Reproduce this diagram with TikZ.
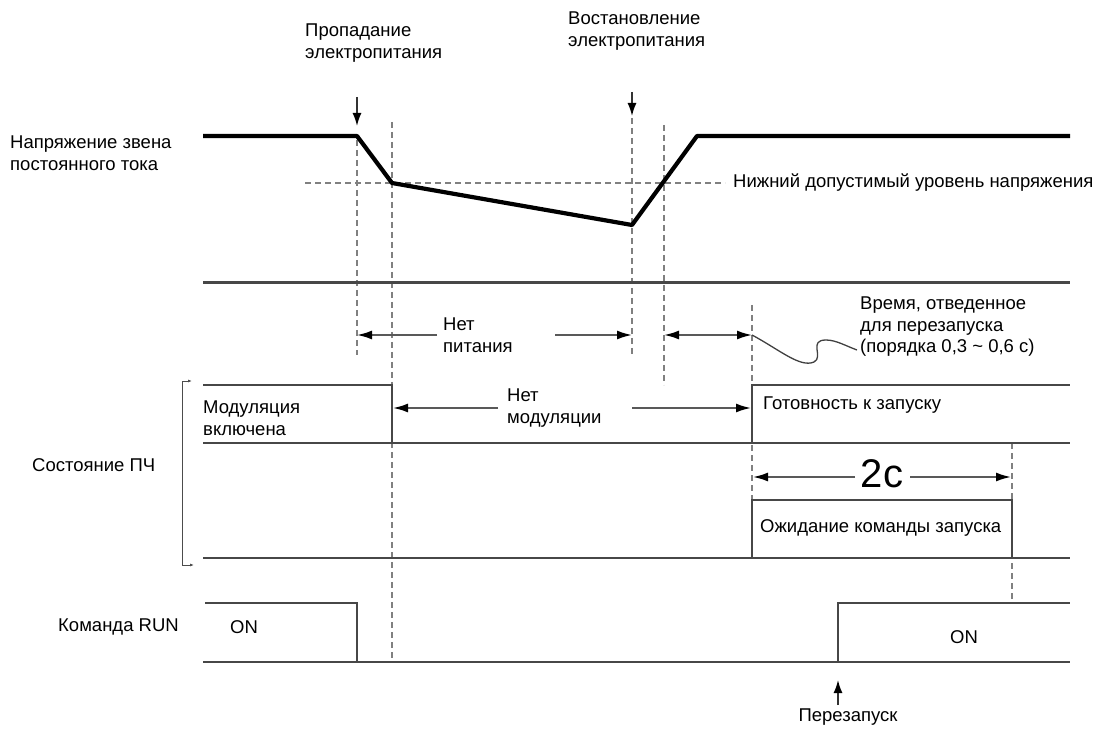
\documentclass[tikz,border=0pt]{standalone}
\usepackage{fontspec}
\setmainfont{Liberation Sans}
\usetikzlibrary{arrows.meta}
\begin{document}
\begin{tikzpicture}[x=1pt,y=-1pt,line cap=butt,
  sig/.style={line width=2.6pt,draw=black!72},
  dc/.style={line width=4.2pt,draw=black,line join=round},
  guide/.style={line width=1.6pt,draw=black!50,dash pattern=on 6pt off 4pt},
  dim/.style={line width=1.8pt,draw=black!65,-{Latex[length=15pt,width=9pt,fill=black,color=black]}},
  pointer/.style={line width=1.6pt,draw=black!80,-{Latex[length=13pt,width=9pt,color=black]}},
  lbl/.style={font=\fontsize{18.5}{21.5}\selectfont,align=left,inner sep=0pt,anchor=west}]
  \useasboundingbox (0,0) rectangle (1098,735);
  % guides
  \draw[guide] (357,140)--(357,355);
  \draw[guide] (392,122)--(392,662);
  \draw[guide] (632,118)--(632,355);
  \draw[guide] (664,125)--(664,385);
  \draw[guide] (752,305)--(752,500);
  \draw[guide] (1012,443)--(1012,600);
  \draw[guide] (305,183)--(725,183);
  % DC link voltage
  \draw[dc] (203,136)--(357,136)--(392,183)--(632,225)--(697,136)--(1070,136);
  \draw[pointer] (357,97)--(357,126);
  \draw[pointer] (632,92)--(632,116);
  \draw[sig,line width=3pt] (203,283)--(1070,283);
  \node[lbl] (loss) at (305,43) {Пропадание\\электропитания};
  \node[lbl] (back) at (568,31) {Востановление\\электропитания};
  \node[lbl] (dcv) at (10,153) {Напряжение звена\\постоянного тока};
  \node[lbl] (lim) at (733,183) {Нижний допустимый уровень напряжения};
  % no power
  \node[lbl] (nopow) at (443,335) {Нет\\питания};
  \draw[dim] (437,335)--(357,335);
  \draw[dim] (555,335)--(632,335);
  \draw[dim,{Latex[length=15pt,width=9pt,color=black]}-{Latex[length=15pt,width=9pt,color=black]}] (664,335)--(752,335);
  \draw[line width=1.3pt,black!75] (752,335) .. controls (780,350) and (800,368) .. (814,362)
    .. controls (824,357) and (808,340) .. (826,340) .. controls (836,340) and (846,346) .. (857,350);
  \node[lbl] (rtime) at (860,327) {Время, отведенное\\для перезапуска\\(порядка 0,3 \textasciitilde{} 0,6 с)};
  % FC state
  \draw[sig] (203,385)--(392,385)--(392,443);
  \draw[sig] (752,443)--(752,385)--(1070,385);
  \draw[sig] (203,443)--(1070,443);
  \draw[sig] (752,558)--(752,500)--(1012,500)--(1012,558);
  \draw[sig] (203,558)--(1070,558);
  \draw[line width=1pt,black!70,{Latex[length=4pt,width=3pt]}-{Latex[length=4pt,width=3pt]}] (192,381)--(182,381)--(182,565)--(194,565);
  \node[lbl] (modon) at (203,418) {Модуляция\\включена};
  \node[lbl] (nomod) at (507,408) {Нет\\модуляции};
  \draw[dim] (498,408)--(393,408);
  \draw[dim] (632,408)--(751,408);
  \node[lbl] (ready) at (763,405) {Готовность к запуску};
  \node[lbl] (fcst) at (32,465) {Состояние ПЧ};
  \node[font=\fontsize{40}{44}\selectfont,inner sep=0pt] (two) at (882,474) {2с};
  \draw[dim] (855,477)--(753,477);
  \draw[dim] (910,477)--(1011,477);
  \node[lbl] (wait) at (760,528) {Ожидание команды запуска};
  % RUN command
  \draw[sig] (205,603)--(357,603)--(357,662);
  \draw[sig] (203,662)--(1070,662);
  \draw[sig] (838,662)--(838,603)--(1070,603);
  \node[lbl] (run) at (58,627) {Команда RUN};
  \node[lbl] (on1) at (230,627) {ON};
  \node[lbl] (on2) at (950,637) {ON};
  \draw[pointer] (838,705)--(838,680);
  \node[lbl,anchor=center] (restart) at (848,717) {Перезапуск};
\end{tikzpicture}
\end{document}
